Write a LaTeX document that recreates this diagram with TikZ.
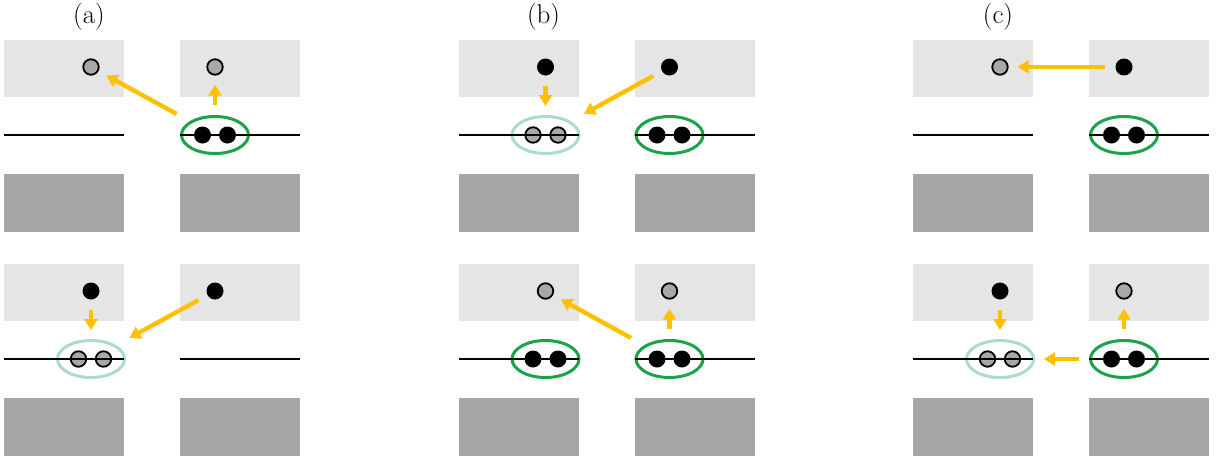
\documentclass[tikz,border=0pt]{standalone}
\usetikzlibrary{arrows.meta,shapes.geometric}

\definecolor{hellgrau}{RGB}{230,229,230}
\definecolor{dunkelgrau}{RGB}{166,166,166}
\definecolor{lochgrau}{RGB}{168,168,168}
\definecolor{gelb}{RGB}{255,192,0}
\definecolor{gruen}{RGB}{26,163,74}
\definecolor{hellgruen}{RGB}{170,221,196}

\tikzset{
  oben/.style={fill=hellgrau},
  unten/.style={fill=dunkelgrau},
  leitung/.style={line width=2.5pt},
  elektron/.style={circle, fill=black, inner sep=0pt, minimum size=17pt},
  loch/.style={circle, draw=black, line width=1.8pt, fill=lochgrau, inner sep=0pt, minimum size=15.5pt},
  paar/.style={ellipse, draw=gruen, line width=3pt, inner sep=0pt, minimum width=67pt, minimum height=37pt},
  paarleer/.style={paar, draw=hellgruen},
  sprung/.style={-{Triangle[length=11pt,width=13pt]}, draw=gelb, line width=4.4pt, shorten <=10pt, shorten >=9pt},
}

% Ellipse mit zwei Teilchen
\newcommand{\cooperpaar}[5]{%
  \node[#4] (#1) at (#2,#3) {};
  \node[#5] (#1-l) at ([xshift=-12.5pt]#1.center) {};
  \node[#5] (#1-r) at ([xshift=12.5pt]#1.center) {};
}

\begin{document}
\begin{tikzpicture}[x=1pt, y=-1pt]
    \useasboundingbox (0,0) rectangle (1223,461);

    % Baender
    \foreach \px in {4,458.5,913}
      \foreach \py in {0,224}
        \foreach \sp in {0,176} {
          \fill[oben] (\px+\sp,\py+40) rectangle ++(120,57);
          \fill[unten] (\px+\sp,\py+174) rectangle ++(120,58);
        }

    % Beschriftung
    \node[font=\fontsize{27}{30}\selectfont] (la) at (89,16.5) {(a)};
    \node[font=\fontsize{27}{30}\selectfont] (lb) at (543.5,16.5) {(b)};
    \node[font=\fontsize{27}{30}\selectfont] (lc) at (998,16.5) {(c)};

    % (a)
    \node[loch] (a1l) at (91,67) {};
    \node[loch] (a1r) at (215,67) {};
    \cooperpaar{a1p}{215}{135}{paar}{elektron}
    \node[elektron] (a2l) at (91,291) {};
    \node[elektron] (a2r) at (215,291) {};
    \cooperpaar{a2p}{91}{359}{paarleer}{loch}

    % (b)
    \node[elektron] (b1l) at (545.5,67) {};
    \node[elektron] (b1r) at (669.5,67) {};
    \cooperpaar{b1pl}{545.5}{135}{paarleer}{loch}
    \cooperpaar{b1pr}{669.5}{135}{paar}{elektron}
    \node[loch] (b2l) at (545.5,291) {};
    \node[loch] (b2r) at (669.5,291) {};
    \cooperpaar{b2pl}{545.5}{359}{paar}{elektron}
    \cooperpaar{b2pr}{669.5}{359}{paar}{elektron}

    % (c)
    \node[loch] (c1l) at (1000,67) {};
    \node[elektron] (c1r) at (1124,67) {};
    \cooperpaar{c1p}{1124}{135}{paar}{elektron}
    \node[elektron] (c2l) at (1000,291) {};
    \node[loch] (c2r) at (1124,291) {};
    \cooperpaar{c2pl}{1000}{359}{paarleer}{loch}
    \cooperpaar{c2pr}{1124}{359}{paar}{elektron}

    % Leitungen
    \foreach \px in {4,458.5,913}
      \foreach \py in {135,359}
        \foreach \sp in {0,176}
          \draw[leitung] (\px+\sp,\py) -- ++(120,0);

    % Spruenge
    \draw[sprung, shorten <=15pt] (a1p) -- (a1l);
    \draw[sprung] (a1p) -- (a1r);
    \draw[sprung] (a2l) -- (a2p);
    \draw[sprung, shorten >=15pt] (a2r) -- (a2p);
    \draw[sprung] (b1l) -- (b1pl);
    \draw[sprung, shorten >=15pt] (b1r) -- (b1pl);
    \draw[sprung, shorten <=15pt] (b2pr) -- (b2l);
    \draw[sprung] (b2pr) -- (b2r);
    \draw[sprung] (c1r) -- (c1l);
    \draw[sprung] (c2l) -- (c2pl);
    \draw[sprung] (c2pr) -- (c2r);
    \draw[sprung] (c2pr) -- (c2pl);
\end{tikzpicture}
\end{document}
